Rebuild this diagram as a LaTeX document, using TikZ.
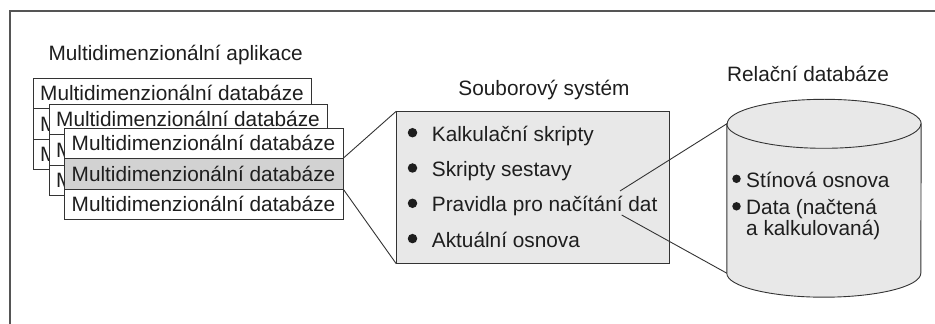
\documentclass[tikz,border=0pt]{standalone}
\usepackage{fontspec}
\setmainfont{Liberation Sans}
\definecolor{ln}{HTML}{333333}
\definecolor{tx}{HTML}{1E1E1E}
\definecolor{rowgray}{HTML}{D2D2D2}
\definecolor{boxgray}{HTML}{E8E8E8}
\definecolor{framegray}{HTML}{555555}
\tikzset{
  lbl/.style={font=\fontsize{20.8}{24}\selectfont, text=tx, inner sep=0pt},
  mdb/.style={lbl, draw=ln, line width=0.9pt, fill=white, minimum width=278pt,
    minimum height=30.5pt, text height=14.9pt, text depth=0pt},
  conn/.style={draw=ln, line width=0.9pt},
  bigdot/.style={circle, fill=tx, inner sep=0pt, minimum size=9.5pt},
  smalldot/.style={circle, fill=tx, inner sep=0pt, minimum size=8.5pt},
  panel/.style={draw=ln, line width=0.9pt, fill=boxgray, inner sep=0pt},
}
\begin{document}
\begin{tikzpicture}[x=1pt,y=1pt]
\useasboundingbox (0,0) rectangle (935,324);
% open frame
\draw[framegray, line width=1.4pt] (10,0) -- (10,313) -- (935,313);

% left: application
\node[lbl, anchor=base west] (app) at (48.3,263.3) {Multidimenzionální aplikace};
% back group
\node[mdb] (b1) at (172,230.75) {Multidimenzionální databáze};
\node[mdb] (b2) at (172,200.25) {Multidimenzionální databáze};
\node[mdb] (b3) at (172,169.75) {Multidimenzionální databáze};
% middle group
\node[mdb] (m1) at (188,204.75) {Multidimenzionální databáze};
\node[mdb] (m2) at (188,174.25) {Multidimenzionální databáze};
\node[mdb] (m3) at (188,143.75) {Multidimenzionální databáze};
% front group
\node[mdb, minimum width=279pt] (f1) at (203.5,180.75) {Multidimenzionální databáze};
\node[mdb, minimum width=279pt, fill=rowgray] (f2) at (203.5,150.25) {Multidimenzionální databáze};
\node[mdb, minimum width=279pt] (f3) at (203.5,119.75) {Multidimenzionální databáze};

% middle: file system
\node[lbl, anchor=base] (fstitle) at (544,228.7) {Souborový systém};
\node[panel, minimum width=272.3pt, minimum height=151.6pt] (fs) at (532.85,136.5) {};
\node[bigdot] (d1) at (412.5,191.3) {};
\node[bigdot] (d2) at (412.5,156.0) {};
\node[bigdot] (d3) at (412.5,120.7) {};
\node[bigdot] (d4) at (412.5,85.4) {};
\node[lbl, anchor=base west] (i1) at (431.7,182.6) {Kalkulační skripty};
\node[lbl, anchor=base west] (i2) at (431.7,147.3) {Skripty sestavy};
\node[lbl, anchor=base west] (i3) at (431.7,112.0) {Pravidla pro načítání dat};
\node[lbl, anchor=base west] (i4) at (431.7,76.7) {Aktuální osnova};

\draw[conn] (f2.north east) -- (fs.north west);
\draw[conn] (f2.south east) -- (fs.south west);

% right: relational database (cylinder)
\node[lbl, anchor=base] (dbtitle) at (808,242.3) {Relační databáze};
\node[minimum width=194pt, minimum height=149pt, inner sep=0pt] (db) at (824,125.5) {};
\draw[ln, line width=0.9pt, fill=boxgray]
  (db.north west) -- (db.south west)
  arc[start angle=180, end angle=360, x radius=97, y radius=24]
  -- (db.north east)
  arc[start angle=0, end angle=180, x radius=97, y radius=24.5] -- cycle;
\draw[ln, line width=0.9pt]
  (db.north west) arc[start angle=180, end angle=360, x radius=97, y radius=24.5];
\node[smalldot] (e1) at (736.5,145.2) {};
\node[smalldot] (e2) at (736.5,117.7) {};
\node[lbl, anchor=base west] (j1) at (746,136.5) {Stínová osnova};
\node[lbl, anchor=base west] (j2) at (746,109) {Data (načtená};
\node[lbl, anchor=base west] (j3) at (746,88) {a kalkulovaná)};

\coordinate (p1) at (620,133);
\coordinate (p2) at (621.7,109);
\draw[conn] (p1) -- (db.north west);
\draw[conn] (p2) -- (db.south west);
\end{tikzpicture}
\end{document}
